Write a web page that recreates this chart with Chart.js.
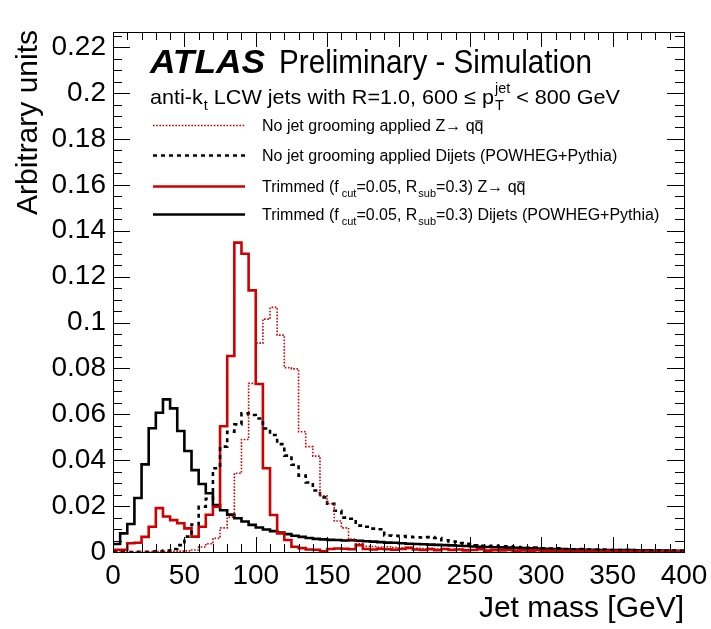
<!DOCTYPE html>
<html>
<head>
    <title>Jet mass, ATLAS Preliminary - Simulation</title>
    <style>
        html, body { margin: 0; padding: 0; background: #fff; }
        #chart-container { width: 711px; height: 629px; }
    </style>
</head>
<body>

    <div id="chart-container">
        <canvas id="myChart" width="711" height="629"></canvas>
    </div>

    <script src="https://cdn.jsdelivr.net/npm/chart.js"></script>
    <script>
        // 5 GeV bins from 0 to 400 GeV, one value per bin
        const binWidth = 5;
        const massEdges = Array.from({ length: 81 }, (_, i) => i * binWidth);

        // No jet grooming applied Z -> qq
        const noGroomZ = [
            0, 0, 0, 0, 0.0001, 0.0001, 0.0002, 0.0002, 0.0003, 0.0004,
            0.0005, 0.0009, 0.0022, 0.0036, 0.0060, 0.0105, 0.0152, 0.0343, 0.0490, 0.0735,
            0.0910, 0.1015, 0.1066, 0.0945, 0.0803, 0.0798, 0.0524, 0.0459, 0.0418, 0.0245,
            0.0210, 0.0135, 0.0105, 0.0056, 0.0036, 0.0025, 0.0024, 0.0021, 0.0023, 0.0019,
            0.0018, 0.0020, 0.0016, 0.0015, 0.0017, 0.0013, 0.0014, 0.0012, 0.0013, 0.0011,
            0.0010, 0.0011, 0.0009, 0.0010, 0.0008, 0.0009, 0.0008, 0.0007, 0.0008, 0.0006,
            0.0007, 0.0006, 0.0005, 0.0006, 0.0005, 0.0005, 0.0004, 0.0005, 0.0004, 0.0004,
            0.0003, 0.0004, 0.0003, 0.0003, 0.0003, 0.0002, 0.0003, 0.0002, 0.0002, 0.0002
        ];
        // No jet grooming applied Dijets (POWHEG+Pythia)
        const noGroomDijet = [
            0, 0, 0, 0.0001, 0.0001, 0.0002, 0.0003, 0.0006, 0.0013, 0.0030,
            0.0067, 0.0120, 0.0197, 0.0232, 0.0365, 0.0459, 0.0524, 0.0556, 0.0604, 0.0597,
            0.0582, 0.0538, 0.0510, 0.0470, 0.0420, 0.0380, 0.0333, 0.0303, 0.0268, 0.0238,
            0.0210, 0.0180, 0.0150, 0.0145, 0.0115, 0.0110, 0.0102, 0.0099, 0.0072, 0.0071,
            0.0069, 0.0066, 0.0064, 0.0063, 0.0065, 0.0061, 0.0051, 0.0046, 0.0039, 0.0036,
            0.0029, 0.0027, 0.0026, 0.0027, 0.0024, 0.0025, 0.0022, 0.0019, 0.0018, 0.0019,
            0.0016, 0.0015, 0.0016, 0.0013, 0.0012, 0.0013, 0.0011, 0.0010, 0.0011, 0.0009,
            0.0009, 0.0008, 0.0009, 0.0007, 0.0007, 0.0006, 0.0007, 0.0005, 0.0006, 0.0005
        ];
        // Trimmed (fcut=0.05, Rsub=0.3) Z -> qq
        const trimZ = [
            0.0010, 0.0010, 0.0038, 0.0040, 0.0066, 0.0110, 0.0191, 0.0155, 0.0139, 0.0125,
            0.0103, 0.0067, 0.0110, 0.0162, 0.0197, 0.0548, 0.0854, 0.1348, 0.1300, 0.1140,
            0.0732, 0.0365, 0.0161, 0.0081, 0.0052, 0.0023, 0.0017, 0.0011, 0.0010, 0.0003,
            0.0013, 0.0015, 0.0014, 0.0012, 0.0030, 0.0013, 0.0011, 0.0014, 0.0012, 0.0010,
            0.0013, 0.0018, 0.0011, 0.0009, 0.0012, 0.0008, 0.0013, 0.0009, 0.0011, 0.0007,
            0.0009, 0.0012, 0.0006, 0.0008, 0.0007, 0.0009, 0.0005, 0.0007, 0.0006, 0.0008,
            0.0005, 0.0006, 0.0004, 0.0006, 0.0005, 0.0004, 0.0006, 0.0004, 0.0003, 0.0005,
            0.0004, 0.0003, 0.0004, 0.0003, 0.0004, 0.0002, 0.0003, 0.0003, 0.0002, 0.0003
        ];
        // Trimmed (fcut=0.05, Rsub=0.3) Dijets (POWHEG+Pythia)
        const trimDijet = [
            0.0035, 0.0081, 0.0122, 0.0235, 0.0382, 0.0539, 0.0607, 0.0665, 0.0626, 0.0527,
            0.0440, 0.0357, 0.0296, 0.0256, 0.0205, 0.0182, 0.0163, 0.0147, 0.0133, 0.0118,
            0.0107, 0.0098, 0.0091, 0.0085, 0.0078, 0.0071, 0.0066, 0.0061, 0.0057, 0.0055,
            0.0053, 0.0052, 0.0050, 0.0051, 0.0049, 0.0047, 0.0045, 0.0043, 0.0041, 0.0040,
            0.0038, 0.0036, 0.0035, 0.0034, 0.0032, 0.0031, 0.0030, 0.0029, 0.0027, 0.0026,
            0.0024, 0.0023, 0.0022, 0.0021, 0.0020, 0.0019, 0.0018, 0.0017, 0.0016, 0.0015,
            0.0014, 0.0013, 0.0013, 0.0012, 0.0011, 0.0011, 0.0010, 0.0010, 0.0009, 0.0009,
            0.0008, 0.0008, 0.0008, 0.0007, 0.0007, 0.0006, 0.0006, 0.0006, 0.0005, 0.0005
        ];

        const xTickLabels = [0, 50, 100, 150, 200, 250, 300, 350, 400];
        const yTickLabels = [0, 0.02, 0.04, 0.06, 0.08, 0.1, 0.12, 0.14, 0.16, 0.18, 0.2, 0.22];
        const xMin = 0, xMax = 400, yMin = 0, yMax = 0.2266;

        const FONT = "'Liberation Sans', Arial, Helvetica, sans-serif";
        const RED = '#d10000';

        // histogram: one point per bin low edge, plus closing point at the last edge
        function toSteps(values) {
            return massEdges.map((x, i) => ({ x: x, y: values[Math.min(i, values.length - 1)] }));
        }

        // text with sub/superscripts and overbars, optionally squeezed to a width
        function drawRich(ctx, parts, x, y, size, opts) {
            opts = opts || {};
            const small = Math.round(size * 0.66);
            const items = parts.map(p => {
                if (typeof p === 'string') p = { t: p };
                ctx.font = (p.style || '') + ' ' + size + 'px ' + FONT;
                const mw = ctx.measureText(p.t).width;
                ctx.font = small + 'px ' + FONT;
                const supW = p.sup ? ctx.measureText(p.sup).width : 0;
                const subW = p.sub ? ctx.measureText(p.sub).width : 0;
                const sw = Math.max(supW, subW);
                const gap = sw ? (p.gap != null ? p.gap : 1) : 0;
                return { p, mw, sw, gap };
            });
            const natural = items.reduce((s, it) => s + it.mw + it.sw + it.gap, 0);
            const sx = opts.width ? opts.width / natural : 1;
            ctx.save();
            ctx.translate(x, y);
            if (opts.rotate) ctx.rotate(opts.rotate);
            if (opts.align === 'right') ctx.translate(-natural * sx, 0);
            ctx.scale(sx, 1);
            ctx.fillStyle = '#000';
            ctx.textAlign = 'left';
            ctx.textBaseline = 'alphabetic';
            let cx = 0;
            items.forEach(it => {
                const p = it.p;
                ctx.font = (p.style || '') + ' ' + size + 'px ' + FONT;
                ctx.fillText(p.t, cx, 0);
                if (p.bar) {
                    ctx.fillRect(cx + it.mw * 0.08, -size * 0.66, it.mw * 0.84, Math.max(1, size * 0.06));
                }
                cx += it.mw + it.gap;
                if (it.sw) {
                    ctx.font = small + 'px ' + FONT;
                    if (p.sup) ctx.fillText(p.sup, cx, -size * 0.52);
                    if (p.sub) ctx.fillText(p.sub, cx, size * 0.3);
                    cx += it.sw;
                }
            });
            ctx.restore();
        }

        const legendItems = [
            { ds: 0, parts: ['No jet grooming applied Z\u2192 q', { t: 'q', bar: true }] },
            { ds: 1, parts: ['No jet grooming applied Dijets (POWHEG+Pythia)'] },
            { ds: 2, parts: [{ t: 'Trimmed (f', sub: 'cut', gap: 3 }, { t: '=0.05, R', sub: 'sub', gap: 1 }, '=0.3) Z\u2192 q', { t: 'q', bar: true }] },
            { ds: 3, parts: [{ t: 'Trimmed (f', sub: 'cut', gap: 3 }, { t: '=0.05, R', sub: 'sub', gap: 1 }, '=0.3) Dijets (POWHEG+Pythia)'] }
        ];
        const legendY = [125, 155, 186, 214];

        // ROOT-like frame, inward ticks, labels and legend
        const rootFrame = {
            id: 'rootFrame',
            afterDraw(chart) {
                const ctx = chart.ctx;
                const a = chart.chartArea;
                const xs = chart.scales.x, ys = chart.scales.y;
                ctx.save();
                ctx.strokeStyle = '#000';
                ctx.lineWidth = 1;
                ctx.strokeRect(Math.round(a.left) + 0.5, Math.round(a.top) + 0.5,
                    Math.round(a.right - a.left), Math.round(a.bottom - a.top));

                ctx.beginPath();
                for (let v = xMin; v <= xMax; v += 10) {
                    const px = Math.round(xs.getPixelForValue(v)) + 0.5;
                    const len = v % 50 === 0 ? 15 : 8;
                    ctx.moveTo(px, a.bottom); ctx.lineTo(px, a.bottom - len);
                    ctx.moveTo(px, a.top); ctx.lineTo(px, a.top + len);
                }
                for (let i = 0; i * 0.005 <= yMax; i++) {
                    const py = Math.round(ys.getPixelForValue(i * 0.005)) + 0.5;
                    const len = i % 4 === 0 ? 17 : 9;
                    ctx.moveTo(a.left, py); ctx.lineTo(a.left + len, py);
                    ctx.moveTo(a.right, py); ctx.lineTo(a.right - len, py);
                }
                ctx.stroke();

                // tick labels
                ctx.fillStyle = '#000';
                ctx.font = '28px ' + FONT;
                ctx.textAlign = 'center';
                ctx.textBaseline = 'alphabetic';
                xTickLabels.forEach(v => ctx.fillText(String(v), xs.getPixelForValue(v), 584));
                ctx.textAlign = 'right';
                ctx.textBaseline = 'middle';
                yTickLabels.forEach(v => ctx.fillText(String(v), a.left - 7, ys.getPixelForValue(v)));

                // axis titles
                drawRich(ctx, ['Jet mass [GeV]'], a.right, 617, 30, { align: 'right' });
                drawRich(ctx, ['Arbitrary units'], 37, a.top - 2, 30, { align: 'right', rotate: -Math.PI / 2 });

                // header
                drawRich(ctx, [{ t: 'ATLAS', style: 'italic bold' }], 150, 73, 33, { width: 115 });
                drawRich(ctx, ['Preliminary - Simulation'], 279, 73, 33, { width: 313 });
                drawRich(ctx, [{ t: 'anti-k', sub: 't' }, ' LCW jets with R=1.0, 600 \u2264 ', { t: 'p', sup: 'jet', sub: 'T', gap: 1 }, ' < 800 GeV'],
                    150, 104, 21, { width: 470 });

                // legend
                legendItems.forEach((item, i) => {
                    const ds = chart.data.datasets[item.ds];
                    const y = legendY[i];
                    ctx.save();
                    ctx.strokeStyle = ds.borderColor;
                    ctx.lineWidth = ds.borderWidth;
                    ctx.setLineDash(ds.borderDash || []);
                    ctx.beginPath();
                    ctx.moveTo(153, y + 0.5); ctx.lineTo(245, y + 0.5);
                    ctx.stroke();
                    ctx.restore();
                    drawRich(ctx, item.parts, 262, y + 6, 16);
                });
                ctx.restore();
            }
        };

        const ctx = document.getElementById('myChart').getContext('2d');
        const myChart = new Chart(ctx, {
            type: 'line',
            data: {
                datasets: [
                    {
                        label: 'No jet grooming applied Z\u2192qq',
                        data: toSteps(noGroomZ),
                        borderColor: RED,
                        borderWidth: 1.6,
                        borderDash: [1.6, 1.6]
                    },
                    {
                        label: 'No jet grooming applied Dijets (POWHEG+Pythia)',
                        data: toSteps(noGroomDijet),
                        borderColor: '#000',
                        borderWidth: 2.6,
                        borderDash: [4, 4]
                    },
                    {
                        label: 'Trimmed Z\u2192qq',
                        data: toSteps(trimZ),
                        borderColor: RED,
                        borderWidth: 2.6
                    },
                    {
                        label: 'Trimmed Dijets (POWHEG+Pythia)',
                        data: toSteps(trimDijet),
                        borderColor: '#000',
                        borderWidth: 2.6
                    }
                ]
            },
            options: {
                responsive: false,
                animation: false,
                stepped: true,
                elements: {
                    point: { radius: 0 },
                    line: { stepped: true, fill: false, tension: 0 }
                },
                layout: { padding: { left: 113, top: 32, right: 27, bottom: 77 } },
                plugins: {
                    legend: { display: false },
                    tooltip: { enabled: false }
                },
                scales: {
                    x: { type: 'linear', min: xMin, max: xMax, display: false },
                    y: { type: 'linear', min: yMin, max: yMax, display: false }
                }
            },
            plugins: [rootFrame]
        });
    </script>

</body>
</html>
